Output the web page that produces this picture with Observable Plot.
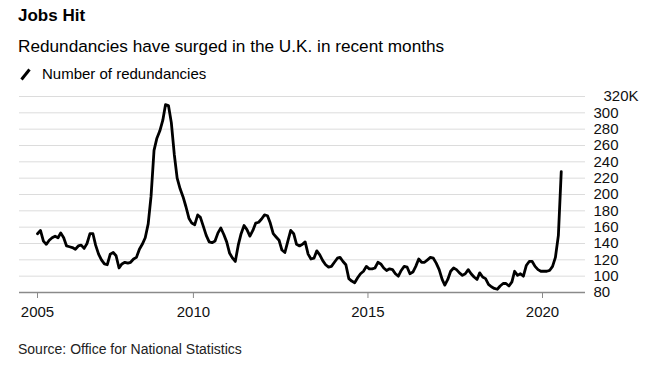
<!DOCTYPE html>
<html><head><meta charset="utf-8">
<script src="https://cdn.jsdelivr.net/npm/d3@7"></script>
<script src="https://cdn.jsdelivr.net/npm/@observablehq/plot@0.6"></script>
<style>
body{margin:0;background:#fff;font-family:"Liberation Sans",Arial,sans-serif;color:#000;}
#wrap{position:relative;width:647px;height:370px;overflow:hidden;background:#fff;}
.title{position:absolute;left:18px;top:7px;font-size:17px;line-height:17px;font-weight:bold;}
.subtitle{position:absolute;left:18px;top:38px;font-size:17.2px;line-height:17px;white-space:nowrap;}
.legend{position:absolute;left:20px;top:67px;font-size:15px;line-height:14px;white-space:nowrap;display:flex;align-items:center;}
.legend svg{margin-right:11px;}
.source{position:absolute;left:18px;top:342px;font-size:14px;line-height:14px;color:#222;}
#chart{position:absolute;left:0;top:88px;}
</style></head>
<body>
<div id="wrap">
  <div class="title">Jobs Hit</div>
  <div class="subtitle">Redundancies have surged in the U.K. in recent months</div>
  <div class="legend"><svg width="11" height="13"><line x1="1.5" y1="11.5" x2="9.5" y2="1.5" stroke="#000" stroke-width="3" stroke-linecap="butt"/></svg><span>Number of redundancies</span></div>
  <div id="chart"></div>
  <div class="source">Source: Office for National Statistics</div>
</div>
<script>
// Monthly series (thousands), first month July 2005
const startMonth = "2005-07";
const redundancies = [
  152,156,143,139,144,147,149,147,153,147,137,136,
  135,133,137,138,134,140,152,152,138,127,120,115,
  114,127,129,125,110,115,117,116,117,121,123,133,
  139,147,164,198,254,269,278,291,310,309,288,249,
  220,207,197,185,171,165,163,175,172,161,150,142,
  141,143,153,159,151,142,128,122,118,138,152,162,
  157,149,156,165,166,170,175,174,165,152,148,144,
  132,129,143,156,152,139,137,139,142,127,121,122,
  131,126,119,114,111,112,117,122,123,118,114,97,
  94,92,98,103,106,112,109,109,110,117,115,110,
  107,109,108,103,100,107,112,111,103,105,112,121,
  117,117,120,123,122,116,108,96,89,96,106,110,
  108,104,101,103,108,103,99,96,104,99,97,90,
  87,85,84,88,91,91,88,93,106,101,103,100,
  113,118,118,112,108,106,106,106,107,112,123,150,
  228
];
const yTicks = [80,100,120,140,160,180,200,220,240,260,280,300,320];
const xTickLabels = ["2005","2010","2015","2020"];
const xTickDates = ["2005-07-15","2010-01-01","2015-01-01","2020-01-01"];
const xEnd = "2021-01-01";

const [sy, sm] = startMonth.split("-").map(Number);
const data = redundancies.map((v, i) => ({date: new Date(Date.UTC(sy, sm - 1 + i, 15)), value: v}));
const tickDates = xTickDates.map(s => new Date(s + "T00:00:00Z"));
const labelFor = d => { const i = tickDates.findIndex(t => t.getTime() === +d); return i >= 0 ? xTickLabels[i] : ""; };

const chart = Plot.plot({
  width: 647, height: 240,
  marginLeft: 19, marginRight: 62, marginTop: 8, marginBottom: 36,
  insetLeft: 18, insetRight: 8,
  x: {type: "utc", domain: [data[0].date, new Date(xEnd + "T00:00:00Z")]},
  y: {domain: [80, 320]},
  style: {fontFamily: "'Liberation Sans', Arial, sans-serif", fontSize: "15px", color: "#000", background: "transparent", overflow: "visible"},
  marks: [
    Plot.ruleY(yTicks.filter(d => d > 80), {stroke: "#dcdcdc", strokeWidth: 1}),
    Plot.ruleY([80], {stroke: "#8a8a8a", strokeWidth: 1.5}),
    Plot.axisY({anchor: "right", ticks: yTicks.filter(d => d < 320), tickSize: 0, tickPadding: 8, label: null, fill: "#111"}),
    Plot.text([{v: 320, t: "320K"}], {y: "v", text: "t", frameAnchor: "right", dx: 18, textAnchor: "start", fill: "#111"}),
    Plot.axisX({ticks: tickDates, tickFormat: labelFor, tickSize: 6, tickPadding: 8, stroke: "#8a8a8a", fill: "#111", label: null}),
    Plot.line(data, {x: "date", y: "value", stroke: "#000", strokeWidth: 2.8, strokeLinejoin: "round", strokeLinecap: "round"})
  ]
});
document.getElementById("chart").appendChild(chart);
</script>
</body></html>
